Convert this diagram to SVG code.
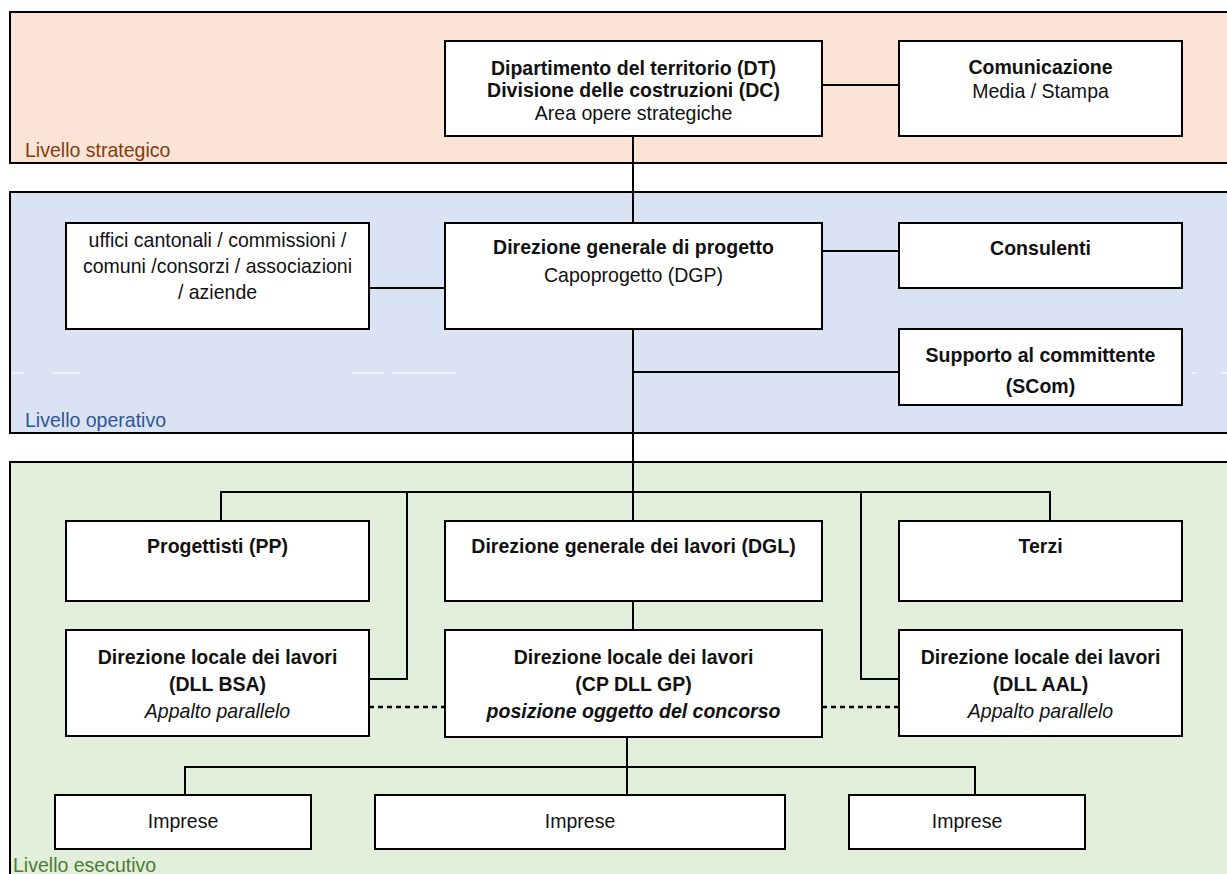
<svg xmlns="http://www.w3.org/2000/svg" width="1227" height="874" viewBox="0 0 1227 874">
<style>
.band{stroke:#000;stroke-width:2}
.box{fill:#fff;stroke:#000;stroke-width:2}
.t{font-family:"Liberation Sans",Arial,sans-serif;font-size:21px;fill:#111;text-anchor:middle}
.b{font-weight:bold}
.i{font-style:italic}
.lbl{font-family:"Liberation Sans",Arial,sans-serif;font-size:21px}
.c{fill:none;stroke:#000;stroke-width:2}
.d{fill:none;stroke:#000;stroke-width:2.5;stroke-dasharray:5 4}
.w{stroke:#fff;stroke-width:1.2}
</style>
<rect width="1227" height="874" fill="#fff"/>
<g id="band-strategico">
<rect class="band" x="10" y="12" width="1230" height="151" fill="#FBE3D6"/>
<text class="lbl" transform="matrix(0.93 0 0 1 25 157)" fill="#843C0C">Livello strategico</text>
</g>
<g id="band-operativo">
<rect class="band" x="10" y="192" width="1230" height="241" fill="#DAE3F3"/>
<line class="w" x1="12" y1="373" x2="25" y2="373"/>
<line class="w" x1="53" y1="373" x2="80" y2="373"/>
<line class="w" x1="353" y1="373" x2="383" y2="373"/>
<line class="w" x1="392" y1="373" x2="457" y2="373"/>
<line class="w" x1="1192" y1="373" x2="1197" y2="373"/>
<line class="w" x1="1222" y1="373" x2="1227" y2="373"/>
<text class="lbl" transform="matrix(0.93 0 0 1 25 427)" fill="#2F5597">Livello operativo</text>
</g>
<g id="band-esecutivo">
<rect class="band" x="10" y="462" width="1230" height="440" fill="#E2EFDA"/>
<text class="lbl" transform="matrix(0.93 0 0 1 13 872)" fill="#4E7A32">Livello esecutivo</text>
</g>
<g id="connectors">
<line class="c" x1="822" y1="85" x2="899" y2="85"/>
<line class="c" x1="633" y1="136" x2="633" y2="223"/>
<line class="c" x1="369" y1="288" x2="445" y2="288"/>
<line class="c" x1="822" y1="251" x2="899" y2="251"/>
<line class="c" x1="633" y1="329" x2="633" y2="521"/>
<line class="c" x1="633" y1="372" x2="899" y2="372"/>
<polyline class="c" points="221,521 221,492 1050,492 1050,521"/>
<polyline class="c" points="407,492 407,679 369,679"/>
<polyline class="c" points="861,492 861,679 899,679"/>
<line class="c" x1="633" y1="601" x2="633" y2="630"/>
<line class="d" x1="369" y1="707" x2="445" y2="707"/>
<line class="d" x1="822" y1="707" x2="899" y2="707"/>
<line class="c" x1="627" y1="737" x2="627" y2="795"/>
<polyline class="c" points="185,795 185,767 975,767 975,795"/>
</g>
<g id="node-dt">
<rect class="box" x="445" y="41" width="377" height="95"/>
<text class="t b" transform="matrix(0.93 0 0 1 633.5 75)">Dipartimento del territorio (DT)</text>
<text class="t b" transform="matrix(0.93 0 0 1 633.5 97)">Divisione delle costruzioni (DC)</text>
<text class="t" transform="matrix(0.93 0 0 1 633.5 120)">Area opere strategiche</text>
</g>
<g id="node-comunicazione">
<rect class="box" x="899" y="41" width="283" height="95"/>
<text class="t b" transform="matrix(0.93 0 0 1 1040.5 74)">Comunicazione</text>
<text class="t" transform="matrix(0.93 0 0 1 1040.5 98)">Media / Stampa</text>
</g>
<g id="node-uffici">
<rect class="box" x="66" y="223" width="303" height="106"/>
<text class="t" transform="matrix(0.93 0 0 1 217.5 247)">uffici cantonali / commissioni /</text>
<text class="t" transform="matrix(0.93 0 0 1 217.5 273)">comuni /consorzi / associazioni</text>
<text class="t" transform="matrix(0.93 0 0 1 217.5 299)">/ aziende</text>
</g>
<g id="node-dgp">
<rect class="box" x="445" y="223" width="377" height="106"/>
<text class="t b" transform="matrix(0.93 0 0 1 633.5 254)">Direzione generale di progetto</text>
<text class="t" transform="matrix(0.93 0 0 1 633.5 282)">Capoprogetto (DGP)</text>
</g>
<g id="node-consulenti">
<rect class="box" x="899" y="223" width="283" height="65"/>
<text class="t b" transform="matrix(0.93 0 0 1 1040.5 255)">Consulenti</text>
</g>
<g id="node-scom">
<rect class="box" x="899" y="329" width="283" height="76"/>
<text class="t b" transform="matrix(0.93 0 0 1 1040.5 362)">Supporto al committente</text>
<text class="t b" transform="matrix(0.93 0 0 1 1040.5 393)">(SCom)</text>
</g>
<g id="node-pp">
<rect class="box" x="66" y="521" width="303" height="80"/>
<text class="t b" transform="matrix(0.93 0 0 1 217.5 553)">Progettisti (PP)</text>
</g>
<g id="node-dgl">
<rect class="box" x="445" y="521" width="377" height="80"/>
<text class="t b" transform="matrix(0.93 0 0 1 633.5 553)">Direzione generale dei lavori (DGL)</text>
</g>
<g id="node-terzi">
<rect class="box" x="899" y="521" width="283" height="80"/>
<text class="t b" transform="matrix(0.93 0 0 1 1040.5 553)">Terzi</text>
</g>
<g id="node-dll-bsa">
<rect class="box" x="66" y="630" width="303" height="106"/>
<text class="t b" transform="matrix(0.93 0 0 1 217.5 664)">Direzione locale dei lavori</text>
<text class="t b" transform="matrix(0.93 0 0 1 217.5 691)">(DLL BSA)</text>
<text class="t i" transform="matrix(0.93 0 0 1 217.5 718)">Appalto parallelo</text>
</g>
<g id="node-dll-gp">
<rect class="box" x="445" y="630" width="377" height="107"/>
<text class="t b" transform="matrix(0.93 0 0 1 633.5 664)">Direzione locale dei lavori</text>
<text class="t b" transform="matrix(0.93 0 0 1 633.5 691)">(CP DLL GP)</text>
<text class="t b i" transform="matrix(0.93 0 0 1 633.5 718)">posizione oggetto del concorso</text>
</g>
<g id="node-dll-aal">
<rect class="box" x="899" y="630" width="283" height="106"/>
<text class="t b" transform="matrix(0.93 0 0 1 1040.5 664)">Direzione locale dei lavori</text>
<text class="t b" transform="matrix(0.93 0 0 1 1040.5 691)">(DLL AAL)</text>
<text class="t i" transform="matrix(0.93 0 0 1 1040.5 718)">Appalto parallelo</text>
</g>
<g id="node-imprese-1">
<rect class="box" x="55" y="795" width="256" height="54"/>
<text class="t" transform="matrix(0.93 0 0 1 183 828)">Imprese</text>
</g>
<g id="node-imprese-2">
<rect class="box" x="375" y="795" width="410" height="54"/>
<text class="t" transform="matrix(0.93 0 0 1 580 828)">Imprese</text>
</g>
<g id="node-imprese-3">
<rect class="box" x="849" y="795" width="236" height="54"/>
<text class="t" transform="matrix(0.93 0 0 1 967 828)">Imprese</text>
</g>
</svg>
